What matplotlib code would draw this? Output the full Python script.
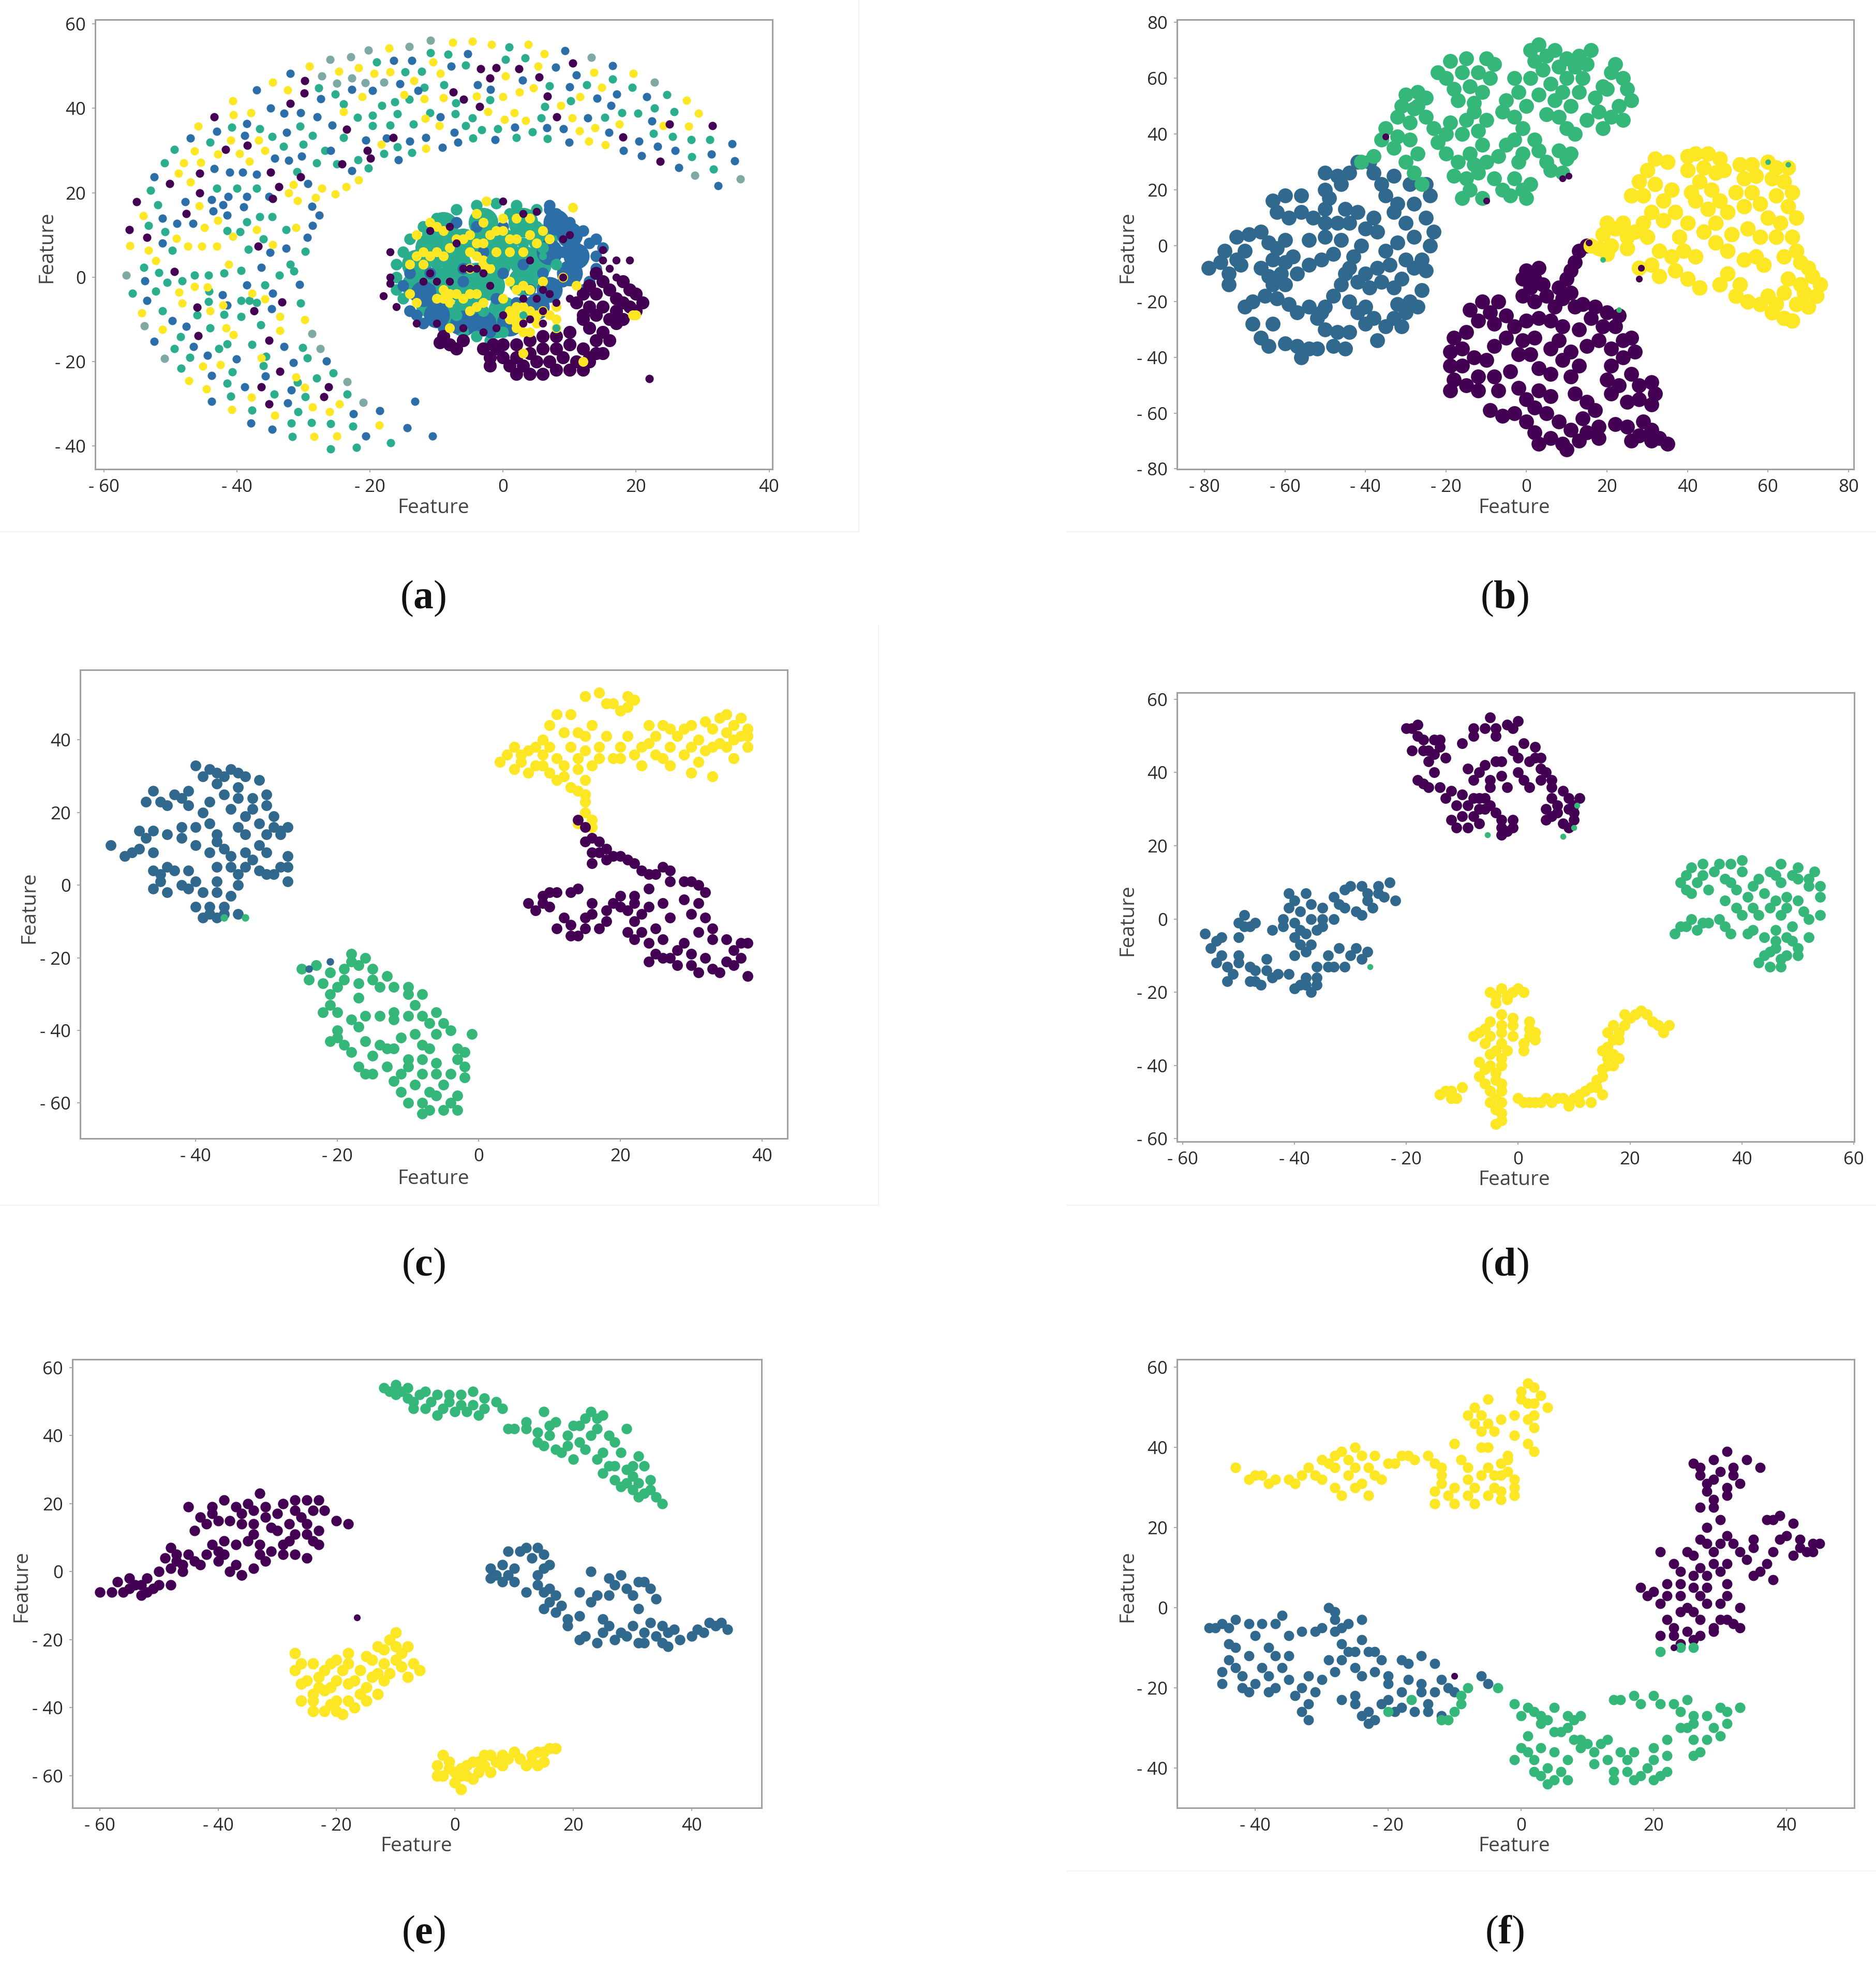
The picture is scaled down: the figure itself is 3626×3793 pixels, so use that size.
import matplotlib
matplotlib.use("Agg")
import matplotlib.pyplot as plt
from matplotlib.lines import Line2D

W, H = 3626, 3793
PURPLE, BLUE, GREEN, YELLOW = "#440154", "#31688e", "#35b779", "#fde725"
FAN_BLUE, FAN_TEAL, FAN_GREY = "#2c6ea8", "#2bae8e", "#7fa9a5"

# ---------- panel a ----------
a_fan_grey = [(-26,51.6),(-22.9,52.2),(-20.2,53.8),(-14.1,54.6),(-10.9,56.1),(-27.2,47.6),(-25,45.9),(-22.7,47.1),(-20.7,46),(-17.9,46.2),(13.3,52),(22.8,46.2),(-53.9,-11.5),(-56.6,0.4),(-50.9,-19.3),(-28.7,-13.4),(-27.5,-16.9),(-23.4,-24.8),(-21,-29.7),(28.8,24.1),(35.7,23.3)]
a_fan_teal = [(-27.7,44.8),(-25.2,43.4),(-10.9,53.1),(-8.3,52.8),(0.9,54.5),(-19,51),(-14.7,48.6),(-12.2,48.8),(-5.6,50.2),(0.4,51.6),(3.3,51.9),(16.5,46.9),(19.4,45),(24.6,43.2),(25.7,39.2),(22.8,40.1),(20.3,38.8),(17.9,39),(15.3,37.8),(12.6,45.5),(10.2,41.8),(7,45.3),(6.3,40.4),(5.7,37.7),(2,33.1),(4.4,34.4),(6.7,32.8),(-3.2,34.9),(-0.8,35.2),(-4.5,32.9),(-5.6,35.9),(-4.6,37.7),(-7.2,38.7),(-7.1,41.3),(-8.9,45.6),(-11.8,44.9),(-14.1,42.1),(-16.3,41.5),(-18.2,40.6),(-19.6,38.3),(-21.9,37.8),(-19.6,35.9),(-15.9,38.7),(-13.5,36.2),(-15.9,30.8),(-13.7,29.5),(-17.9,29.3),(-21.8,27.8),(-20.2,25.8),(-25,26.8),(-26.8,30),(-28.6,33.6),(-30.5,35.7),(-34.7,33.3),(-36.6,35.2),(-40.8,35.5),(-44,31.9),(-49.4,30.2),(-50.9,27),(-53,20.6),(-51.9,17.1),(-53.3,12.2),(-50.8,10.8),(-49.7,6.3),(-51.7,1.1),(-54,2.3),(-55.7,-3.8),(-52.2,-3.3),(-50.5,-1.2),(-48.2,-0.9),(-46.4,0.5),(-44.3,0.5),(-41.9,0.9),(-39.4,1.6),(-38.3,6.6),(-39.5,10.8),(-41.5,11),(-38.5,13.1),(-36.6,14.3),(-34.7,14.3),(-32.6,11.3),(-29.7,6.1),(-31.4,1.4),(-33.6,0.5),(-35.8,-1.9),(-39.4,-5.6),(-44.2,-3.3),(-44.3,-5.8),(-41.9,-8.9),(-39.4,-9.4),(-38.1,-5.6),(-51.2,-8),(-48.5,-14.1),(-49.4,-16.9),(-48.4,-21.6),(-47.1,-19),(-42.7,-16.9),(-41.5,-15.8),(-37.7,-16),(-36.4,-11.3),(-30.4,-6.1),(-30.1,-16.7),(-29.4,-19.2),(-35.6,-18.8),(-41.5,-25.2),(-40.7,-22.5),(-40.9,-28.2),(-37.7,-31.5),(-34.4,-27.7),(-30.9,-24.9),(-28,-23.9),(-25.5,-22.7),(-23.4,-27.7),(-29.7,-28.4),(-25.9,-34.7),(-28.8,-34.5),(-31.8,-34.6),(-31.7,-37.8),(-25.9,-40.7),(-22,-40.4),(-16.9,-39.2),(-22.6,-35.3),(-30.8,-31.9),(28.3,32.6),(25.5,33.3),(31.1,32.6),(22.6,34),(28.4,28.5),(31.6,25.6),(-37,21),(-40,21),(-43,21),(-33,31),(-30,31.5),(-24,33),(-28,27),(-31,25),(-36,9),(-32,3),(-37,-6),(-46,-9),(-44,-12),(-36,-21),(-24,41),(-17,36),(-11,39),(-2,42)]
a_fan_blue = [(9.3,53.6),(16.5,50.1),(21.6,42.8),(17.1,43.4),(10,45.1),(11,47.9),(7.9,49.7),(2.9,46.7),(-1.9,44.4),(-3.8,45.6),(-5.3,52.9),(-7.8,50),(-13.7,51.3),(-16.4,51.3),(-19.6,44.2),(-22.7,44.4),(-15.5,45.8),(-12.8,44.2),(-9.4,38),(-7.3,34.3),(-9.1,30.7),(-6.8,31.9),(-1.2,32.6),(1.8,35.5),(6.6,35.4),(9.1,35.1),(9.9,31.9),(12.7,37.7),(16.2,40.7),(14.1,42.4),(15.9,34.3),(20.4,32.2),(22.4,37),(23.2,31),(25.9,30),(20.8,28.8),(18.1,30),(26.4,26),(31.3,29.1),(34.4,31.6),(34.8,27.5),(32.3,21.6),(-32,48.2),(-37,44.3),(-34.9,40),(-32.9,38.8),(-30.4,38.9),(-27.4,42.3),(-27.9,37.9),(-25.7,36),(-32.5,34.3),(-38.5,36.4),(-38.8,33.5),(-43,34.5),(-47,32.9),(-43.4,25.7),(-41.1,24.9),(-39.1,24.8),(-37,24.3),(-52.4,23.8),(-47.8,17.8),(-51.2,13.9),(-49,12.7),(-51.2,8),(-46.6,12.7),(-43.8,18.3),(-41.3,19.1),(-43.6,15.7),(-41.5,14.7),(-39,16.6),(-42.1,17.1),(-38.5,19.1),(-35.2,19.1),(-34.3,28.2),(-32.2,27.7),(-30.3,28.6),(-25.9,30),(-22.7,25.2),(-20.6,32.4),(-17.5,32.9),(-15.7,27.8),(-14,32.2),(-11.6,33),(-29.3,22.1),(-28.7,16.7),(-27.6,14.7),(-28.6,12.2),(-29.4,9.4),(-32.6,6.8),(-35,5.8),(-36.3,2.3),(-30.6,-1.7),(-34.6,-3.8),(-34.8,-7.5),(-38.5,-1.9),(-42.2,-4.2),(-41.5,-6.6),(-53.8,-0.9),(-53.5,-5.6),(-49.7,-10.3),(-47.6,-11.7),(-46.5,-16.4),(-52.4,-15.2),(-44.4,-18.5),(-43.8,-23.3),(-38.8,-26),(-40.1,-19.4),(-35.7,-23.5),(-32.9,-16.4),(-31.5,-20.2),(-26.5,-19.9),(-31.8,-26.8),(-32.4,-29.8),(-43.8,-29.4),(-37.9,-34.6),(-34.7,-36.1),(-22.5,-32.4),(-18.5,-31.7),(-13.2,-29.5),(-14.4,-35.7),(-10.6,-37.6),(-20.6,-37.6)]
a_fan_yellow = [(-7.6,55.6),(-4.6,55.9),(-1.7,55.1),(3.8,55.1),(6.2,52.9),(-17.1,54.3),(-10.5,50.9),(-29.1,50),(-24.7,48.8),(-21.7,49.6),(-19.4,48.2),(-17,48.6),(-13.4,46.5),(-9.4,48.2),(0.4,47.7),(5.3,50),(13.7,48.5),(19.6,48.2),(27.6,41.9),(29.4,38.8),(27.9,35.7),(24.1,35.9),(17.5,36.3),(13.8,35.4),(11.5,34.7),(15.4,31.3),(12.9,32.2),(10.4,37.7),(8.7,40.6),(11.6,42.7),(14.8,44.9),(4.6,44.8),(2.5,43.8),(0,42.7),(-4,42.9),(-9,42.5),(-11.8,42.3),(-14.9,43.2),(-21.2,42.7),(-24,39.2),(-11.7,37.6),(-9.6,35.9),(-2.3,39.2),(1.7,39),(3.4,37.1),(0.2,37.3),(-11.6,30.5),(-18.3,31.5),(-21.7,23),(-23.6,21.4),(-25.2,19.7),(-27.2,21.1),(-28.2,18.8),(-32.2,20),(-30.9,18.1),(-31.5,21.9),(-35.8,30),(-38.1,27.4),(-36.7,32.4),(-39.6,29.3),(-40.9,32.4),(-40.5,38.5),(-40.6,41.8),(-37.9,39),(-32.4,44.3),(-34.6,46.2),(-45.8,35.7),(-46.4,29.9),(-48,27),(-48.8,24.6),(-42.9,29.1),(-45.4,27.2),(-47,22.5),(-45.7,16.9),(-44.9,11.7),(-42.9,13.4),(-54.1,14.6),(-56.1,7.5),(-53.3,6.4),(-52.2,3.9),(-49.1,9.1),(-47.4,7.3),(-45.3,7.3),(-43,7.3),(-40.6,9.6),(-41.2,3),(-44.4,-2.3),(-46.4,-2.2),(-48.7,-3.6),(-48.2,-6.1),(-42.1,-6.6),(-44,-8),(-37.7,-3.8),(-35.8,-5.2),(-33.5,-9.4),(-31.1,11.7),(-37,11.3),(-34.6,7.7),(-54.3,-8.5),(-51.2,-12.4),(-41.6,-12),(-40.5,-13.6),(-45.1,-21.1),(-42.5,-20.7),(-47.2,-24.6),(-44.6,-26.5),(-37.8,-28.5),(-40.8,-31.4),(-29.8,-26.1),(-31.1,-23.7),(-36.3,-19.2),(-33.5,-12.7),(-29.8,-10.1),(-28.6,-30.8),(-34.3,-32.7),(-24.6,-30.1),(-26.1,-31.9),(-18.6,-35.1),(-25,-37.6),(-28.4,-37.8)]
a_fan_purple = [(-43.4,38),(-41.7,30.2),(-38.4,31.2),(-45.6,24.6),(-50.1,22.1),(-45.6,19.9),(-55.1,17.8),(-47.6,15),(-56.2,11.3),(-53.5,9.4),(-49.4,1.3),(-36.8,7.3),(-34.9,24.9),(-33.7,21.4),(-34.6,18.6),(-30.4,23.7),(-29.8,46.5),(-29.9,43.6),(-32,41.1),(-23.5,35),(-20.4,30),(-19.9,28.2),(-24.2,26.8),(-16.5,33),(-7.5,43.9),(-5.9,42.1),(-3.4,49.3),(-1,49.6),(-2,47.1),(2.4,49.3),(5.4,47.4),(6.7,42.9),(-3.5,40.4),(8.1,38),(10.5,50.7),(25,36.2),(18,33.2),(31.5,35.9),(23.6,27.4),(-46,-7.2),(-37.4,-8),(-33.2,-5.9),(-45.8,-13.9),(-35.2,-15),(-36.3,-26),(-33.5,-22.3),(-26.2,-26),(-26.9,-28.4),(-35.2,-30),(22,-24)]

a_core_teal_big = [(-9,12),(-3,13),(3,13),(-11,7),(-6,8),(0,8),(6,9),(-13,3),(-7,3),(-1,3),(5,3),(-13,-2),(-7,-2),(-2,-2),(3,-1),(-11,-6),(-5,-6),(0,-8),(-8,-9),(-10,10),(-3,9),(3,4),(-10,-1),(-4,0),(-8,6),(-1,-11)]
a_core_blue_big = [(10,10),(11,5),(10,1),(7,-3),(-3,-11),(1,-11),(-10,-9),(5,-7),(7,6),(-12,-4),(8,13),(-6,-11)]
a_core_teal = [(-16,3),(-16,0),(-16,-3),(-15,6),(-14,9),(-12,12),(-10,14),(-7,16),(-4,17),(-1,17.5),(2,17),(5,16),(-15,-5),(-14,-8),(-6,-13),(-4,-14),(-2,-15),(0,-13),(1,5),(3,8),(-3,-4),(-8,-4),(5,12),(-2,6),(8,3),(-12,8),(-9,8),(-6,4),(-1,9),(2,11),(6,7),(-5,-3),(-1,-6),(4,1),(-10,3),(-4,13),(1,15),(-7,-9),(-3,-8)]
a_core_blue = [(7,16),(8,15),(10,13),(12,11),(13,8),(14,5),(14,2),(13,-1),(12,-3),(-12,-11),(-9,-12),(-13,-9),(7,17),(14,9),(15,7),(-14,-8),(-15,-2),(-6,2),(3,3),(-1,-5),(-11,1),(5,-5),(9,-1),(-4,12),(2,-6),(-7,-12),(-7,13),(-11,-3),(-14,1),(-3,6),(0,1),(-5,-10),(-2,-13),(0,12),(4,-3),(11,7),(9,6),(6,1),(-9,-6),(-6,-1)]
a_core_yellow = [(10.5,16.5),(-2.5,18),(-11,13),(-10,12),(-9,11),(-13,10),(-12,6),(-11,5),(-10,6),(-9,5),(-8,7),(-7,9),(-6,9),(-5,10),(-4,8),(-3,8),(-2,10),(-1,11),(0,11),(1,9),(2,9),(4,10),(5,8),(6,11),(7,9),(-4,15),(-3,13),(0,14),(2,14),(4,14),(-13,5),(-12,3),(-14,3),(-5,6),(-4,5),(-3,4),(-3,3),(-2,2),(-5,2),(-1,6),(1,6),(3,6),(-9,-3),(-8,-4),(-9,-5),(-7,-4),(-6,-5),(-5,-4),(-4,-4),(-3,-6),(-4,-7),(-8,-6),(-10,-5),(-5,-8),(-14,-4),(-13,-6),(0,-5),(2,-3),(3,-2),(4,-3),(6,-1),(1,-1),(9,0),(11,-2),(1,-8),(2,-7),(3,-7),(4,-8),(1,-10),(2,-12),(3,-13),(4,-13),(5,-11),(5,-9),(6,-8),(7,-9),(8,-7),(8,-10),(8,-12),(19.5,-9),(20,-9),(-8,-12),(3,-18),(12,-20),(2,-9),(3,-10),(2,-11)]
a_core_green = [(3,-9),(8,-12),(-2,4),(6,5),(-7,-7)]
a_core_purple = [(-17,6),(-17,0),(-17,-1.5),(-18,-4.5),(-16,-7),(-13,-11),(-10,-11),(-11,11),(-8,12),(-7,8),(-6,2),(-5,2),(-4,2),(-11,1),(-12,-1),(-10,-1),(-8,-1),(-3,1),(-2,-2),(0,18),(3,15),(5,15.5),(9,9),(10,10),(4,4),(9,0),(6,-3),(5,-5),(7,-4),(-1,-12),(3,-5),(4,-10),(6,-11),(6,-8),(8,-6),(10,-5),(0,-9),(3,-11),(-6,-12),(-3,-13),(15,6.5),(15,4),(16,2),(17,0),(19,4),(17,4)]
a_core_right = [(14,1),(15,-1),(13,-2),(16,-3),(18,-1),(19,-3),(12,-4),(14,-4),(17,-5),(20,-4),(21,-6),(20,-8),(11,-6),(13,-7),(15,-7),(17,-8),(18,-6),(14,-9),(16,-10),(12,-10),(13,-12),(15,-13),(17,-11),(14,-15),(16,-15),(12,-9),(18,-10),(19,-7)]
a_core_bottom = [(-9,-14),(-8,-16),(-7,-17),(-9.5,-15.5),(-6,-15),(-3,-17),(-2,-19),(-1,-17),(0,-16),(-1.5,-16),(2,-16),(4,-15),(6,-14),(8,-14),(10,-13),(0,-19),(2,-19),(4,-18),(6,-17),(8,-17),(10,-16),(12,-17),(13,-19),(14,-18),(1,-21),(3,-21),(5,-20),(7,-20),(9,-19),(11,-20),(13,-20),(2,-23),(4,-23),(6,-23),(8,-22),(10,-22),(12,-22),(-2,-21),(15,-18)]

# ---------- panel b ----------
b_green = [(-22,62),(-19,66),(-15,67),(-10,67),(-8,65),(-20,60),(-16,62),(-12,62),(-9,60),(-18,56),(-14,57),(-11,55),(-17,52),(-13,51),(-30,54),(-27,55),(-31,50),(-28,49),(-32,46),(-29,44),(-27,50),(-25,46),(-35,42),(-36,38),(-32,39),(-33,35),(-29,38),(-27,33),(-30,30),(-28,26),(-26,22),(-38,32),(-41,30),(-23,42),(-20,40),(-22,37),(-19,44),(-16,40),(-15,45),(-13,48),(-10,45),(-12,41),(-20,33),(-17,30),(-14,33),(-11,36),(-18,25),(-15,24),(-12,26),(-14,20),(-11,17),(-13,29),(-10,30),(-7,32),(-5,36),(-8,24),(-6,20),(-3,24),(-4,18),(-1,20),(0,17),(1,22),(-6,48),(-3,46),(-5,52),(-2,55),(-3,60),(0,50),(-1,42),(-3,38),(-1,33),(-2,30),(2,38),(3,34),(5,30),(6,27),(9,26),(10,31),(11,33),(8,34),(1,70),(3,72),(5,68),(2,66),(7,70),(10,67),(13,68),(16,70),(4,63),(8,64),(12,64),(15,65),(1,60),(6,58),(10,60),(14,60),(3,54),(7,52),(5,47),(9,55),(13,55),(11,50),(8,46),(10,42),(12,40),(15,45),(18,48),(17,53),(20,56),(21,62),(22,65),(24,60),(25,56),(26,52),(23,50),(21,46),(24,45),(19,42),(19,57),(-25,53),(-16,17)]
b_blue = [(-79,-8),(-76,-6),(-75,-2),(-74,-10),(-72,-5),(-74,-14),(-71,-7),(-70,-2),(-72,3),(-69,4),(-66,5),(-64,1),(-62,-1),(-60,2),(-63,-5),(-60,-6),(-58,-4),(-66,-8),(-64,-11),(-61,-10),(-57,-10),(-63,-14),(-60,-14),(-65,-18),(-68,-20),(-70,-22),(-62,-19),(-59,-21),(-57,-24),(-54,-22),(-51,-24),(-68,-28),(-66,-33),(-63,-28),(-64,-36),(-60,-35),(-57,-36),(-54,-37),(-56,-40),(-52,-37),(-48,-36),(-45,-37),(-50,-30),(-52,-26),(-47,-31),(-44,-31),(-50,-22),(-48,-18),(-46,-14),(-44,-20),(-42,-24),(-40,-28),(-38,-26),(-35,-29),(-33,-26),(-31,-29),(-37,-34),(-40,-22),(-63,16),(-60,18),(-56,18),(-62,12),(-59,10),(-56,12),(-53,10),(-50,8),(-47,8),(-50,13),(-49,17),(-50,26),(-47,25),(-46,22),(-50,20),(-44,26),(-42,30),(-39,30),(-38,26),(-54,-7),(-51,-5),(-48,-3),(-54,2),(-50,3),(-46,2),(-44,8),(-45,13),(-42,12),(-38,10),(-40,6),(-37,5),(-41,0),(-43,-4),(-45,-10),(-42,-13),(-44,-8),(-40,-10),(-37,-8),(-39,-15),(-36,-13),(-33,-15),(-31,-12),(-34,-7),(-30,-5),(-35,-2),(-32,1),(-28,3),(-30,8),(-33,12),(-35,18),(-32,15),(-28,15),(-29,22),(-25,10),(-23,5),(-24,0),(-26,-5),(-25,-9),(-28,-8),(-26,-16),(-29,-20),(-30,-24),(-27,-22),(-32,-21),(-36,22),(-33,25),(-25,22),(-24,18)]
b_yellow = [(16,0),(18,-1),(20,-3),(21,0),(19,4),(20,8),(22,6),(24,8),(25,3),(27,5),(25,-1),(29,8),(30,3),(26,18),(28,23),(30,27),(32,31),(35,30),(29,18),(32,22),(34,16),(36,20),(31,12),(34,9),(37,12),(40,8),(38,3),(33,-2),(36,-4),(31,-7),(33,-11),(37,-9),(40,-12),(43,-15),(39,-2),(42,-4),(40,32),(42,33),(45,33),(48,31),(40,27),(44,28),(47,26),(43,23),(49,27),(46,20),(42,16),(45,13),(41,19),(48,16),(50,12),(47,8),(44,5),(47,1),(51,4),(50,-2),(53,29),(56,29),(60,30),(62,28),(65,28),(54,24),(57,25),(61,24),(64,23),(52,19),(56,19),(54,14),(58,15),(62,18),(66,19),(65,14),(67,10),(63,8),(60,10),(55,6),(58,3),(62,3),(66,3),(67,-2),(68,-6),(70,-8),(64,-4),(57,-4),(54,-5),(59,-7),(48,-14),(50,-10),(53,-14),(52,-18),(55,-20),(58,-21),(61,-24),(64,-26),(66,-27),(60,-18),(64,-17),(67,-21),(70,-22),(72,-18),(73,-14),(71,-11),(68,-14),(65,-12),(69,-17),(62,-21),(28,-8)]
b_purple = [(15,0),(13,-2),(12,-6),(11,-9),(10,-12),(0,-9),(3,-8),(-1,-12),(2,-12),(1,-15),(4,-14),(5,-18),(8,-15),(9,-19),(11,-17),(7,-22),(12,-22),(2,-20),(-1,-18),(-14,-23),(-11,-20),(-7,-20),(-9,-24),(-5,-25),(-12,-27),(-8,-28),(14,-21),(17,-22),(20,-24),(23,-25),(16,-26),(19,-29),(22,-29),(13,-30),(9,-29),(6,-27),(3,-26),(0,-27),(-3,-29),(-15,-31),(-18,-33),(-19,-38),(-16,-37),(-19,-43),(-16,-43),(-13,-40),(-18,-48),(-15,-50),(-19,-52),(-12,-47),(-10,-41),(-8,-36),(-5,-33),(-12,-52),(-8,-47),(-7,-52),(-4,-45),(-1,-34),(2,-33),(-2,-39),(1,-39),(3,-44),(6,-37),(8,-34),(9,-41),(11,-38),(6,-46),(11,-47),(13,-43),(15,-36),(18,-34),(21,-37),(24,-34),(26,-33),(24,-40),(21,-43),(27,-38),(20,-48),(23,-50),(26,-46),(21,-53),(28,-50),(31,-49),(32,-53),(28,-55),(31,-57),(25,-56),(-2,-51),(0,-55),(3,-52),(6,-54),(-9,-59),(-6,-61),(-3,-60),(2,-58),(5,-60),(8,-63),(12,-53),(15,-56),(17,-59),(14,-62),(11,-66),(0,-63),(2,-67),(3,-71),(6,-69),(9,-71),(10,-73),(13,-70),(15,-67),(18,-65),(18,-69),(22,-64),(25,-65),(29,-63),(28,-68),(31,-66),(33,-69),(35,-71),(26,-70),(31,-70)]
b_specks_purple = [(-10,16),(9,24),(10.5,25),(-35,39),(15.5,1),(28.5,-8),(28,-12)]
b_specks_green = [(23,-23),(60,30),(65,29),(19,-5)]

# ---------- panel c ----------
c_blue = [(-52,11),(-50,8),(-48,10),(-46,9),(-48,15),(-46,15),(-44,14),(-42,13),(-40,11),(-38,9),(-46,4),(-45,1),(-46,-1),(-44,-2),(-43,4),(-41,4),(-40,1),(-39,-2),(-47,23),(-46,26),(-43,25),(-41,26),(-44,22),(-41,22),(-39,20),(-38,17),(-40,16),(-37,14),(-40,33),(-39,30),(-37,31),(-35,32),(-37,28),(-36,25),(-34,27),(-33,30),(-31,29),(-35,21),(-33,19),(-30,22),(-31,17),(-29,19),(-28,15),(-30,14),(-31,11),(-33,9),(-35,8),(-37,5),(-29,16),(-28,5),(-27,8),(-29,3),(-27,1),(-31,4),(-34,3),(-34,0),(-35,-3),(-37,-2),(-38,-6),(-40,-6),(-39,-9),(-37,-9),(-36,-6),(-34,-8),(-36,10),(-33,14),(-32,24),
 (-49,9),(-47,13),(-45,23),(-42,24),(-42,16),(-36,30),(-38,32),(-34,31),(-34,24),(-32,21),(-30,25),(-34,16),(-30,9),(-27,5),(-32,7),(-35,5),(-37,1),(-44,5),(-45,3),(-42,0),(-41,-1),(-38,-8),(-36,-8),(-28,14),(-27,16),(-38,23),(-37,12),(-33,5),(-30,3)]
c_green = [(-25,-23),(-23,-22),(-22,-27),(-21,-30),(-22,-35),(-20,-35),(-18,-19),(-17,-22),(-19,-23),(-16,-20),(-19,-26),(-17,-27),(-15,-26),(-13,-25),(-12,-28),(-10,-28),(-8,-30),(-17,-31),(-20,-40),(-21,-43),(-19,-44),(-17,-39),(-16,-43),(-14,-44),(-12,-45),(-16,-36),(-14,-36),(-12,-35),(-10,-36),(-8,-36),(-6,-35),(-5,-38),(-4,-40),(-9,-41),(-8,-44),(-10,-48),(-7,-45),(-3,-45),(-1,-41),(-17,-50),(-15,-52),(-13,-50),(-12,-54),(-10,-50),(-8,-48),(-6,-49),(-4,-52),(-2,-50),(-2,-46),(-2,-53),(-5,-55),(-11,-57),(-10,-60),(-8,-60),(-7,-62),(-6,-58),(-4,-60),(-3,-62),(-3,-58),
 (-24,-26),(-21,-24),(-20,-28),(-21,-33),(-18,-21),(-15,-23),(-14,-28),(-10,-30),(-9,-33),(-7,-38),(-6,-41),(-12,-37),(-18,-37),(-20,-42),(-18,-46),(-15,-47),(-13,-45),(-11,-42),(-8,-52),(-6,-52),(-9,-55),(-7,-57),(-8,-63),(-5,-62),(-3,-48),(-16,-52),(-11,-52)]
c_yellow = [(3,34),(4,36),(6,34),(5,38),(7,37),(8,33),(9,36),(10,31),(11,35),(11,29),(13,27),(9,40),(10,44),(12,42),(11,47),(13,47),(14,42),(13,38),(15,37),(14,32),(16,33),(15,29),(14,26),(15,23),(15,20),(14,17),(16,16),(17,38),(18,41),(19,35),(15,52),(17,53),(19,50),(20,48),(21,52),(22,51),(16,44),(20,38),(22,36),(23,33),(24,39),(26,35),(25,41),(27,43),(27,38),(29,36),(30,31),(29,43),(31,40),(33,43),(32,37),(33,30),(35,47),(37,46),(35,42),(37,41),(35,38),(38,43),(38,38),(36,35),(34,39),(30,44),(24,44),
 (5,32),(7,31),(9,33),(8,38),(6,36),(10,38),(12,33),(12,30),(14,35),(15,41),(17,35),(15,25),(16,18),(18,50),(21,49),(20,35),(21,41),(23,38),(25,36),(27,33),(28,41),(30,38),(31,34),(33,38),(36,44),(38,41),(36,40),(34,46),(32,45),(26,44)]
c_purple = [(14,18),(15,16),(15,12),(17,12),(18,10),(16,9),(18,7),(20,8),(22,6),(23,4),(25,3),(26,5),(16,6),(27,4),(7,-5),(9,-3),(8,-7),(10,-6),(11,-2),(13,-2),(14,-1),(11,-12),(13,-11),(14,-14),(15,-9),(16,-5),(17,-12),(18,-7),(19,-5),(20,-3),(22,-3),(24,-1),(21,-7),(22,-10),(23,-13),(21,-13),(24,-6),(26,-5),(27,-9),(29,1),(31,0),(32,-2),(31,-5),(32,-9),(31,-13),(26,-15),(25,-19),(27,-20),(29,-16),(30,-22),(32,-20),(33,-15),(34,-24),(36,-22),(35,-15),(37,-16),(37,-20),(38,-25),(33,-12),(28,-22),(24,-21),
 (16,13),(17,9),(19,8),(21,7),(24,3),(9,-5),(10,-2),(12,-9),(15,-12),(13,-14),(16,-8),(18,-10),(20,-6),(22,-5),(23,-8),(22,-15),(24,-16),(25,-12),(26,-20),(28,-18),(30,-19),(31,-24),(33,-23),(35,-21),(36,-18),(38,-16),(29,-4),(30,-8),(27,1),(30,1)]
c_specks_green = [(-36,-9),(-33,-9)]
c_specks_blue = [(-24,-23),(-21,-21)]

# ---------- panel d ----------
d_purple = [(-20,52),(-18,53),(-19,46),(-17,49),(-16,46),(-15,49),(-14,47),(-16,43),(-15,40),(-13,44),(-18,38),(-16,36),(-14,36),(-12,35),(-10,34),(-8,33),(-6,33),(-5,31),(-7,30),(-4,29),(-10,28),(-12,27),(-9,25),(-7,26),(-3,23),(-3,27),(-1,27),(-2,24),(-10,48),(-8,50),(-6,52),(-5,55),(-4,52),(-2,53),(0,54),(-9,41),(-8,38),(-6,42),(-4,43),(-3,39),(-2,36),(0,40),(-1,46),(1,48),(3,47),(2,43),(4,44),(4,38),(6,36),(5,40),(2,36),(6,33),(8,35),(9,30),(10,31),(7,29),(5,30),(5,27),(8,26),(10,27),(11,33),
 (-19,52),(-17,46),(-18,50),(-14,49),(-15,45),(-17,37),(-13,33),(-11,31),(-9,31),(-7,33),(-8,28),(-11,25),(-3,25),(-1,25),(-8,52),(-4,50),(-1,52),(-7,40),(-5,38),(-3,43),(-5,36),(0,44),(3,44),(4,41),(1,38),(6,38),(7,31),(9,33),(6,28),(10,29),(9,25),(-6,30)]
d_blue = [(-56,-4),(-55,-8),(-53,-5),(-53,-10),(-52,-13),(-52,-17),(-50,-12),(-50,-5),(-48,-2),(-50,-1),(-49,1),(-47,-14),(-48,-17),(-46,-18),(-45,-14),(-43,-15),(-41,-15),(-45,-11),(-44,-3),(-42,-2),(-40,-1),(-39,2),(-41,3),(-38,7),(-41,7),(-40,-5),(-38,-4),(-40,-10),(-38,-9),(-35,-2),(-35,3),(-33,6),(-30,9),(-28,9),(-25,9),(-23,10),(-22,5),(-26,3),(-25,7),(-28,1),(-31,3),(-33,0),(-36,-3),(-37,-7),(-34,-10),(-32,-8),(-29,-8),(-28,-11),(-31,-13),(-33,-13),(-36,-13),(-38,-16),(-40,-19),(-37,-20),(-38,-18),(-36,-16),
 (-54,-6),(-54,-12),(-51,-15),(-50,-10),(-49,-2),(-47,-1),(-48,-13),(-44,-16),(-47,-17),(-42,0),(-40,5),(-39,-3),(-37,0),(-37,4),(-39,-7),(-35,0),(-32,4),(-31,8),(-27,7),(-24,6),(-27,5),(-29,2),(-30,-10),(-27,-9),(-34,-13),(-39,-18),(-36,-18)]
d_green = [(29,10),(31,14),(32,10),(31,7),(34,8),(33,15),(36,15),(38,15),(37,11),(39,8),(41,6),(40,13),(43,11),(45,13),(42,3),(44,7),(47,15),(50,14),(47,10),(50,11),(52,9),(54,9),(53,13),(48,6),(50,5),(54,1),(52,0),(47,1),(45,3),(39,3),(38,-4),(31,0),(32,-3),(34,-1),(36,0),(37,-2),(28,-4),(30,-2),(41,-4),(44,-5),(46,-3),(48,-5),(46,-8),(44,-10),(47,-11),(45,-13),(50,-8),(52,-5),(49,-2),(50,-10),
 (30,12),(33,12),(30,8),(35,13),(40,16),(38,10),(42,9),(46,12),(49,12),(52,11),(54,6),(46,5),(43,1),(48,3),(51,2),(33,-1),(29,-2),(42,-3),(46,-6),(49,-6),(48,-10),(45,-9),(43,-12),(47,-13),(40,1),(37,5)]
d_yellow = [(-5,-20),(-3,-19),(-1,-20),(1,-20),(-4,-23),(-2,-22),(-3,-26),(-1,-27),(-6,-30),(-8,-32),(-6,-34),(-3,-31),(-1,-32),(-1,-29),(-4,-36),(-2,-36),(-7,-39),(-5,-40),(-3,-40),(-7,-43),(-4,-44),(-3,-47),(-5,-47),(-3,-50),(-5,-50),(-3,-53),(-4,-56),(2,-28),(2,-32),(1,-34),(3,-31),(1,-36),(-14,-48),(-12,-47),(-10,-46),(-11,-49),(0,-49),(2,-50),(4,-50),(6,-50),(8,-49),(10,-49),(12,-47),(14,-46),(15,-43),(16,-40),(17,-37),(15,-36),(18,-33),(16,-31),(17,-29),(19,-29),(20,-27),(22,-25),(24,-28),(26,-30),(27,-29),(13,-50),(11,-50),(9,-51),
 (-4,-21),(-2,-21),(0,-19),(-5,-28),(-3,-29),(-7,-31),(-5,-32),(-3,-34),(-5,-37),(-3,-38),(-6,-41),(-4,-42),(-6,-45),(-3,-45),(-4,-49),(-4,-52),(-3,-55),(3,-33),(2,-30),(-13,-47),(-12,-49),(1,-50),(3,-50),(5,-49),(7,-49),(9,-50),(11,-48),(13,-46),(14,-44),(15,-41),(16,-38),(18,-38),(17,-33),(18,-31),(19,-26),(21,-26),(23,-26),(25,-29),(26,-31),(15,-48),(17,-40),(16,-35)]
d_specks_green = [(-5.5,23),(8,22.5),(10,25),(10.5,31),(-26.5,-13)]

# ---------- panel e ----------
e_purple = [(-60,-6),(-58,-6),(-56,-6),(-57,-3),(-55,-2),(-54,-4),(-52,-2),(-52,-6),(-50,-4),(-48,-4),(-50,0),(-48,1),(-46,2),(-49,4),(-47,5),(-48,7),(-46,0),(-43,2),(-42,5),(-40,3),(-38,0),(-36,-1),(-41,8),(-39,9),(-37,8),(-44,12),(-43,16),(-45,19),(-41,19),(-39,21),(-35,20),(-33,23),(-38,15),(-36,14),(-34,11),(-32,16),(-30,12),(-33,8),(-32,3),(-34,1),(-29,8),(-27,5),(-25,4),(-27,11),(-25,14),(-27,18),(-25,21),(-23,21),(-22,18),(-29,20),(-24,9),(-23,8),(-20,15),(-18,14),(-32,19),
 (-53,-4),(-55,-5),(-51,-5),(-53,-7),(-47,3),(-45,5),(-44,3),(-40,6),(-39,5),(-37,2),(-42,14),(-40,15),(-41,17),(-37,19),(-34,18),(-36,17),(-34,14),(-31,13),(-28,14),(-30,17),(-28,9),(-25,11),(-23,12),(-26,16),(-24,18),(-27,21),(-31,6),(-29,5),(-36,-1),(-33,5),(-35,9)]
e_purple_dot = [(-16.5,-13.5)]
e_green = [(-12,54),(-10,55),(-10,52),(-8,54),(-7,50),(-5,53),(-5,48),(-3,52),(-3,46),(-1,50),(0,47),(1,52),(3,53),(3,49),(4,46),(5,51),(7,50),(8,48),(10,42),(12,42),(14,41),(15,47),(17,44),(15,37),(16,40),(18,35),(20,33),(19,40),(21,43),(23,47),(22,36),(24,33),(25,46),(26,40),(26,31),(24,42),(28,35),(29,42),(27,27),(28,25),(30,28),(31,34),(32,31),(33,27),(32,23),(34,22),(35,20),(30,24),
 (-11,53),(-9,53),(-8,51),(-6,52),(-7,48),(-4,50),(-2,48),(-1,52),(1,49),(2,47),(5,48),(9,42),(12,44),(14,38),(16,43),(17,36),(19,37),(21,38),(22,45),(24,45),(23,40),(25,35),(27,38),(25,29),(27,31),(29,30),(30,31),(29,26),(31,26),(33,24),(31,22),(20,43)]
e_blue = [(6,-2),(6,1),(8,2),(9,-1),(10,-3),(9,6),(12,7),(14,7),(15,5),(16,2),(14,-1),(12,-6),(15,-6),(17,-7),(15,-11),(17,-12),(19,-14),(21,-13),(23,0),(21,-6),(21,-20),(24,-21),(25,-18),(27,-20),(25,-14),(23,-9),(26,-2),(26,-7),(29,-5),(31,-3),(33,-5),(34,-8),(28,-1),(31,-11),(33,-15),(29,-19),(32,-21),(35,-21),(36,-18),(38,-20),(40,-19),(41,-17),(43,-15),(45,-15),(46,-17),
 (7,-1),(8,-3),(10,1),(11,6),(13,4),(15,1),(14,-4),(16,-9),(18,-10),(16,-5),(19,-16),(22,-19),(26,-16),(28,-18),(24,-7),(27,-4),(30,-7),(32,-3),(30,-16),(32,-18),(34,-19),(36,-22),(37,-17),(42,-18),(44,-16),(35,-16),(31,-21)]
e_yellow = [(-27,-24),(-27,-29),(-25,-32),(-26,-38),(-24,-41),(-22,-35),(-22,-29),(-20,-26),(-20,-32),(-20,-38),(-19,-42),(-17,-40),(-18,-33),(-15,-34),(-16,-29),(-18,-24),(-14,-26),(-12,-32),(-13,-22),(-11,-20),(-10,-26),(-10,-18),(-9,-24),(-8,-31),(-8,-22),(-6,-29),(-15,-38),(-13,-36),(-24,-27),(-3,-57),(-2,-54),(-2,-60),(0,-62),(1,-58),(1,-64),(3,-56),(3,-61),(5,-57),(6,-59),(6,-54),(8,-57),(9,-55),(10,-53),(12,-57),(13,-54),(14,-57),(15,-53),(16,-52),
 (-26,-27),(-26,-33),(-24,-36),(-24,-38),(-22,-41),(-23,-31),(-21,-27),(-21,-34),(-21,-39),(-18,-38),(-16,-36),(-17,-32),(-19,-29),(-14,-31),(-15,-25),(-12,-27),(-12,-23),(-11,-30),(-10,-22),(-9,-28),(-7,-27),(-18,-27),(-13,-30),(-23,-34),(-20,-41),(-1,-58),(-1,-56),(1,-60),(0,-59),(2,-57),(2,-60),(4,-59),(4,-56),(7,-56),(8,-54),(11,-55),(13,-56),(14,-53),(17,-52),(15,-56),(-3,-60),(5,-54)]

# ---------- panel f ----------
f_yellow = [(-43,35),(-41,32),(-39,33),(-37,32),(-35,32),(-33,33),(-32,35),(-30,37),(-28,38),(-25,40),(-22,38),(-30,32),(-28,30),(-28,35),(-25,35),(-23,35),(-25,30),(-23,28),(-21,32),(-19,36),(-18,38),(-16,37),(-14,38),(-12,35),(-12,31),(-10,30),(-8,35),(-10,41),(-13,36),(-13,29),(-10,26),(-13,26),(-7,30),(-5,28),(-5,35),(-3,36),(-1,32),(-1,28),(-3,27),(-2,38),(-4,30),(-6,33),(-6,48),(-5,52),(-8,48),(-6,44),(-5,40),(-4,44),(-3,47),(2,39),(1,41),(-1,43),(-1,48),(1,51),(3,53),(2,48),(1,56),(0,54),(4,50),(-2,37),
 (-40,33),(-38,31),(-34,31),(-31,33),(-29,36),(-27,39),(-26,37),(-24,38),(-26,33),(-24,31),(-27,28),(-22,33),(-20,36),(-17,38),(-12,33),(-11,28),(-8,32),(-9,37),(-8,28),(-7,26),(-4,33),(-3,33),(-1,30),(-2,34),(-3,29),(-7,46),(-7,50),(-6,40),(-5,46),(2,51),(1,47),(0,52),(2,45),(2,55)]
f_purple = [(26,36),(27,33),(29,32),(29,37),(31,39),(32,35),(34,37),(36,35),(33,31),(31,30),(28,29),(29,25),(30,22),(28,20),(31,18),(27,17),(25,14),(21,14),(23,11),(26,13),(24,9),(29,14),(33,14),(35,17),(37,22),(39,23),(41,21),(39,17),(42,17),(44,16),(45,16),(41,13),(37,11),(35,8),(38,7),(30,9),(31,6),(28,8),(26,5),(18,5),(20,4),(22,3),(24,3),(27,3),(30,1),(33,0),(24,-1),(23,-5),(27,-3),(30,-3),(33,-5),(31,-3),(21,-7),(23,-7),(26,-8),(25,-6),(29,-6),
 (27,35),(28,31),(30,34),(32,33),(31,28),(29,27),(27,25),(28,16),(30,16),(32,16),(31,11),(34,12),(35,15),(38,22),(40,18),(42,15),(43,14),(44,14),(38,14),(36,9),(29,11),(27,10),(28,5),(26,8),(22,6),(24,6),(19,3),(21,1),(25,0),(28,1),(31,3),(22,-3),(26,-1),(32,-4),(24,-9),(27,-7),(29,-5)]
f_specks_purple = [(23,-10),(-10,-17)]
f_blue = [(-47,-5),(-45,-4),(-43,-3),(-44,-9),(-45,-16),(-44,-13),(-45,-19),(-41,-4),(-40,-7),(-41,-12),(-42,-17),(-41,-21),(-38,-21),(-37,-4),(-38,-10),(-36,-2),(-35,-7),(-35,-12),(-38,-17),(-35,-18),(-34,-22),(-32,-17),(-32,-24),(-32,-28),(-33,-6),(-31,-6),(-28,-6),(-29,0),(-28,-3),(-26,-4),(-24,-3),(-27,-9),(-29,-13),(-28,-16),(-30,-18),(-26,-11),(-25,-15),(-23,-11),(-21,-13),(-18,-13),(-15,-12),(-17,-14),(-22,-16),(-20,-19),(-18,-21),(-21,-24),(-23,-26),(-23,-29),(-27,-23),(-25,-22),(-19,-26),(-16,-26),(-14,-26),(-12,-27),(-15,-21),(-14,-24),(-12,-18),(-15,-19),(-6,-17),(-5,-19),
 (-46,-5),(-44,-5),(-43,-10),(-43,-15),(-42,-20),(-40,-19),(-39,-4),(-39,-15),(-37,-12),(-36,-15),(-37,-20),(-33,-20),(-33,-26),(-31,-21),(-30,-5),(-28,-1),(-27,-5),(-27,-13),(-25,-11),(-24,-8),(-22,-11),(-24,-17),(-20,-17),(-20,-23),(-22,-28),(-24,-27),(-25,-24),(-18,-25),(-13,-21),(-17,-18),(-11,-20),(-10,-21),(-13,-14)]
f_green = [(-3.5,-20),(-8,-20),(-9,-22),(-9,-24),(-11,-28),(-12,-28),(-10,-26),(-20,-26),(-16.5,-23),(21,-11),(24,-10),(26,-10),(-1,-24),(1,-25),(3,-27),(5,-25),(7,-27),(9,-27),(3,-29),(5,-31),(7,-30),(9,-33),(1,-32),(0,-35),(-1,-38),(2,-38),(4,-40),(3,-42),(5,-43),(7,-43),(5,-36),(7,-38),(9,-35),(11,-36),(13,-33),(13,-38),(15,-36),(16,-38),(14,-43),(16,-41),(18,-42),(20,-43),(22,-41),(20,-38),(20,-35),(14,-23),(17,-22),(20,-22),(23,-24),(25,-23),(26,-27),(24,-30),(26,-33),(26,-37),(28,-33),(28,-27),(30,-25),(33,-25),(31,-29),(30,-32),
 (0,-27),(2,-26),(4,-28),(6,-31),(8,-28),(3,-35),(1,-36),(2,-41),(4,-44),(6,-41),(8,-33),(10,-34),(12,-34),(11,-39),(14,-41),(17,-43),(19,-40),(22,-37),(21,-42),(15,-23),(18,-24),(21,-24),(24,-26),(25,-30),(26,-29),(27,-36),(29,-30),(31,-26),(33,-25),(22,-33),(17,-36)]

axis_px = {"a": (184,1493,38,907), "b": (2275,3583,38,907), "c": (155,1522,1295,2201),
           "d": (2275,3584,1339,2207), "e": (140,1472,2628,3495), "f": (2275,3584,2628,3495)}
lims = {"a": ((-61.3,40.5),(-45.5,61)), "b": ((-86.8,81.3),(-80.1,80.9)), "c": ((-56.3,43.6),(-69.8,59.3)),
        "d": ((-61,60.1),(-60.8,61.8)), "e": ((-64.6,51.8),(-69.5,62.4)), "f": ((-51.8,50.2),(-50,62))}
xticks = {"a": [-60,-40,-20,0,20,40], "b": [-80,-60,-40,-20,0,20,40,60,80], "c": [-40,-20,0,20,40],
          "d": [-60,-40,-20,0,20,40,60], "e": [-60,-40,-20,0,20,40], "f": [-40,-20,0,20,40]}
yticks = {"a": [-40,-20,0,20,40,60], "b": [-80,-60,-40,-20,0,20,40,60,80], "c": [-60,-40,-20,0,20,40],
          "d": [-60,-40,-20,0,20,40,60], "e": [-60,-40,-20,0,20,40,60], "f": [-40,-20,0,20,40,60]}
xlabel_px = {"a": (838,982), "b": (2927,982), "c": (838,2279), "d": (2927,2281), "e": (805,3569), "f": (2927,3569)}
ylabel_px = {"a": (90,478), "b": (2179,478), "c": (56,1755), "d": (2179,1779), "e": (41,3067), "f": (2179,3067)}
caption_px = {"a": (818,1156), "b": (2908,1156), "c": (818,2446), "d": (2908,2446), "e": (818,3737), "f": (2908,3737)}

layers = {
 "a": [(a_core_teal_big,FAN_TEAL,1700),(a_core_blue_big,FAN_BLUE,1300),(a_fan_grey,FAN_GREY,135),(a_fan_teal,FAN_TEAL,135),(a_fan_blue,FAN_BLUE,135),(a_fan_yellow,YELLOW,135),(a_fan_purple,PURPLE,135),
       (a_core_teal,FAN_TEAL,260),(a_core_blue,FAN_BLUE,260),(a_core_bottom,PURPLE,330),(a_core_right,PURPLE,330),(a_core_yellow,YELLOW,190),(a_core_green,FAN_TEAL,120),(a_core_purple,PURPLE,125)],
 "b": [(b_blue,BLUE,430),(b_green,GREEN,430),(b_purple,PURPLE,430),(b_yellow,YELLOW,460),(b_specks_purple,PURPLE,90),(b_specks_green,GREEN,60)],
 "c": [(c_blue,BLUE,225),(c_green,GREEN,225),(c_yellow,YELLOW,235),(c_purple,PURPLE,225),(c_specks_green,GREEN,110),(c_specks_blue,BLUE,110)],
 "d": [(d_purple,PURPLE,225),(d_blue,BLUE,225),(d_green,GREEN,225),(d_yellow,YELLOW,235),(d_specks_green,GREEN,70)],
 "e": [(e_purple,PURPLE,215),(e_purple_dot,PURPLE,90),(e_green,GREEN,215),(e_blue,BLUE,215),(e_yellow,YELLOW,250)],
 "f": [(f_yellow,YELLOW,215),(f_purple,PURPLE,205),(f_blue,BLUE,205),(f_green,GREEN,205),(f_specks_purple,PURPLE,90)],
}

plt.rcParams["font.family"] = ["Open Sans", "DejaVu Sans"]
plt.rcParams["mathtext.fontset"] = "custom"
plt.rcParams["mathtext.rm"] = "Liberation Serif"
plt.rcParams["mathtext.bf"] = "Liberation Serif:bold"

fig = plt.figure(figsize=(W/100, H/100), dpi=100, facecolor="white")

def fmt(v):
    return f"- {abs(v)}" if v < 0 else str(v)

for key, (l, r, t, b) in axis_px.items():
    ax = fig.add_axes([l/W, 1-b/H, (r-l)/W, (b-t)/H])
    for pts, col, s in layers[key]:
        ax.scatter([p[0] for p in pts], [p[1] for p in pts], s=s, c=col, linewidths=0, zorder=2)
    ax.set_xlim(*lims[key][0]); ax.set_ylim(*lims[key][1])
    ax.set_xticks(xticks[key]); ax.set_yticks(yticks[key])
    ax.set_xticklabels([fmt(v) for v in xticks[key]])
    ax.set_yticklabels([fmt(v) for v in yticks[key]])
    ax.tick_params(length=4, width=1.2, color="#9a9a9a", labelsize=25, labelcolor="#2a2a2a", pad=9)
    for sp in ax.spines.values():
        sp.set_color("#a0a0a0"); sp.set_linewidth(2.2)
    x, y = xlabel_px[key]
    fig.text(x/W, 1-y/H, "Feature", ha="center", va="center", fontsize=28, color="#444444")
    x, y = ylabel_px[key]
    fig.text(x/W, 1-y/H, "Feature", ha="center", va="center", rotation=90, fontsize=28, color="#444444")
    x, y = caption_px[key]
    fig.text(x/W, 1-y/H, r"$\mathrm{(}\mathbf{%s}\mathrm{)}$" % key, ha="center", va="center", fontsize=56, color="#111111")

faint = [((0,1660),(1028,1028)),((1660,1660),(0,1028)),((2063,3626),(1028,1028)),((0,1698),(2330,2330)),((1698,1698),(1210,2330)),((2063,3626),(2330,2330)),((2063,3626),(3617,3617))]
for xs, ys in faint:
    fig.add_artist(Line2D([v/W for v in xs], [1-v/H for v in ys], color="#f1f1f1", lw=1.5))

fig.savefig("out.png", dpi=100, facecolor="white")
